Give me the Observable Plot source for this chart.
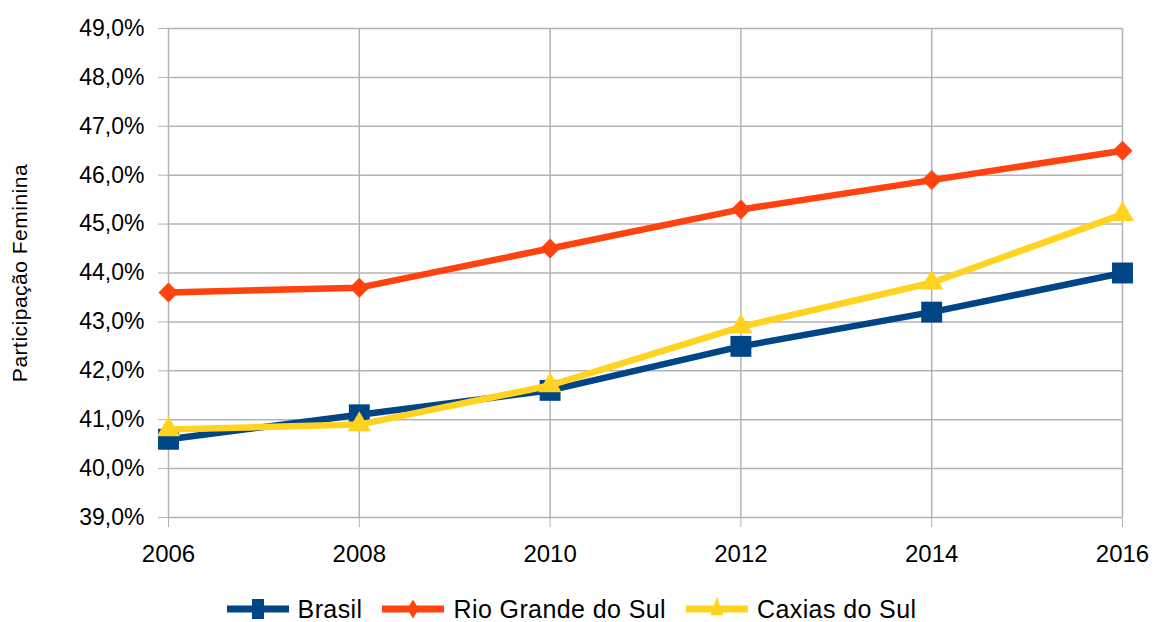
<!DOCTYPE html>
<html>
<head>
<meta charset="utf-8">
<script src="https://cdn.jsdelivr.net/npm/d3@7"></script>
<script src="https://cdn.jsdelivr.net/npm/@observablehq/plot@0.6"></script>
<style>
  html, body { margin: 0; padding: 0; background: #fff; }
  body { width: 1155px; height: 622px; overflow: hidden; font-family: "Liberation Sans", Arial, sans-serif; }
  #legend { display: flex; justify-content: center; align-items: center; height: 38px; font-size: 25px; letter-spacing: 0.4px; color: #000; margin-left: -12px; }
  #legend .item { display: flex; align-items: center; margin: 0 10px; }
  #legend svg { margin-right: 9px; }
</style>
</head>
<body>
<div id="chart"></div>
<div id="legend"></div>
<script>
const years = [2006, 2008, 2010, 2012, 2014, 2016];
const seriesNames = ["Brasil", "Rio Grande do Sul", "Caxias do Sul"];
const brasil = [40.6, 41.1, 41.6, 42.5, 43.2, 44.0];
const rioGrandeDoSul = [43.6, 43.7, 44.5, 45.3, 45.9, 46.5];
const caxiasDoSul = [40.8, 40.9, 41.7, 42.9, 43.8, 45.2];
const yTicks = [39, 40, 41, 42, 43, 44, 45, 46, 47, 48, 49];
const colors = ["#004586", "#ff420e", "#ffd320"];
const symbols = ["square", "diamond2", "triangle"];
const radii = [11.8, 9, 8.6];

const valuesBySeries = [brasil, rioGrandeDoSul, caxiasDoSul];
const data = seriesNames.map((name, i) => years.map((year, j) => ({series: name, year, value: valuesBySeries[i][j]})));

const fmt = d => d.toFixed(1).replace(".", ",") + "%";

const marks = [
  Plot.gridY(yTicks, {stroke: "#b3b3b3", strokeOpacity: 1, strokeWidth: 1.5}),
  Plot.gridX(years, {stroke: "#b3b3b3", strokeOpacity: 1, strokeWidth: 1.5}),
  Plot.axisY({ticks: yTicks, tickFormat: fmt, tickSize: 10, tickPadding: 14, stroke: "#b3b3b3", strokeOpacity: 1, fontSize: 23, fill: "#000", label: "Participação Feminina", labelAnchor: "center", labelArrow: "none", labelOffset: 156}),
  Plot.axisX({ticks: years, tickFormat: d => String(d), tickSize: 10, tickPadding: 17, stroke: "#b3b3b3", strokeOpacity: 1, fontSize: 24, fill: "#000", label: null})
];
data.forEach((rows, i) => {
  marks.push(Plot.line(rows, {x: "year", y: "value", stroke: colors[i], strokeWidth: 6.5}));
  marks.push(Plot.dot(rows, {x: "year", y: "value", symbol: () => symbols[i], fill: colors[i], stroke: "none", r: radii[i]}));
});

const chart = Plot.plot({
  width: 1155,
  height: 590,
  marginLeft: 168,
  marginRight: 33,
  marginTop: 28,
  marginBottom: 73,
  style: {fontFamily: "'Liberation Sans', Arial, sans-serif", background: "#fff"},
  x: {domain: [2006, 2016], type: "linear"},
  y: {domain: [39, 49]},
  symbol: {type: "identity"},
  marks
});
// style y label
const yl = chart.querySelector("[aria-label='y-axis label']");
if (yl) {
  yl.setAttribute("font-size", "21");
  yl.querySelectorAll("text").forEach(t => { t.setAttribute("font-size", "21"); t.setAttribute("letter-spacing", "0.5"); });
}
document.getElementById("chart").appendChild(chart);

const legend = document.getElementById("legend");
const legendSyms = [d3.symbolSquare, d3.symbolDiamond2, d3.symbolTriangle];
const legendSizes = [400, 230, 200];
seriesNames.forEach((name, i) => {
  const item = document.createElement("div");
  item.className = "item";
  const sym = d3.symbol(legendSyms[i], legendSizes[i])();
  item.innerHTML = `<svg width="62" height="26" viewBox="0 0 62 26"><line x1="0" x2="62" y1="13" y2="13" stroke="${colors[i]}" stroke-width="7"/><path transform="translate(31,13) scale(0.6,1)" d="${sym}" fill="${colors[i]}"/></svg><span>${name}</span>`;
  legend.appendChild(item);
});
</script>
</body>
</html>
